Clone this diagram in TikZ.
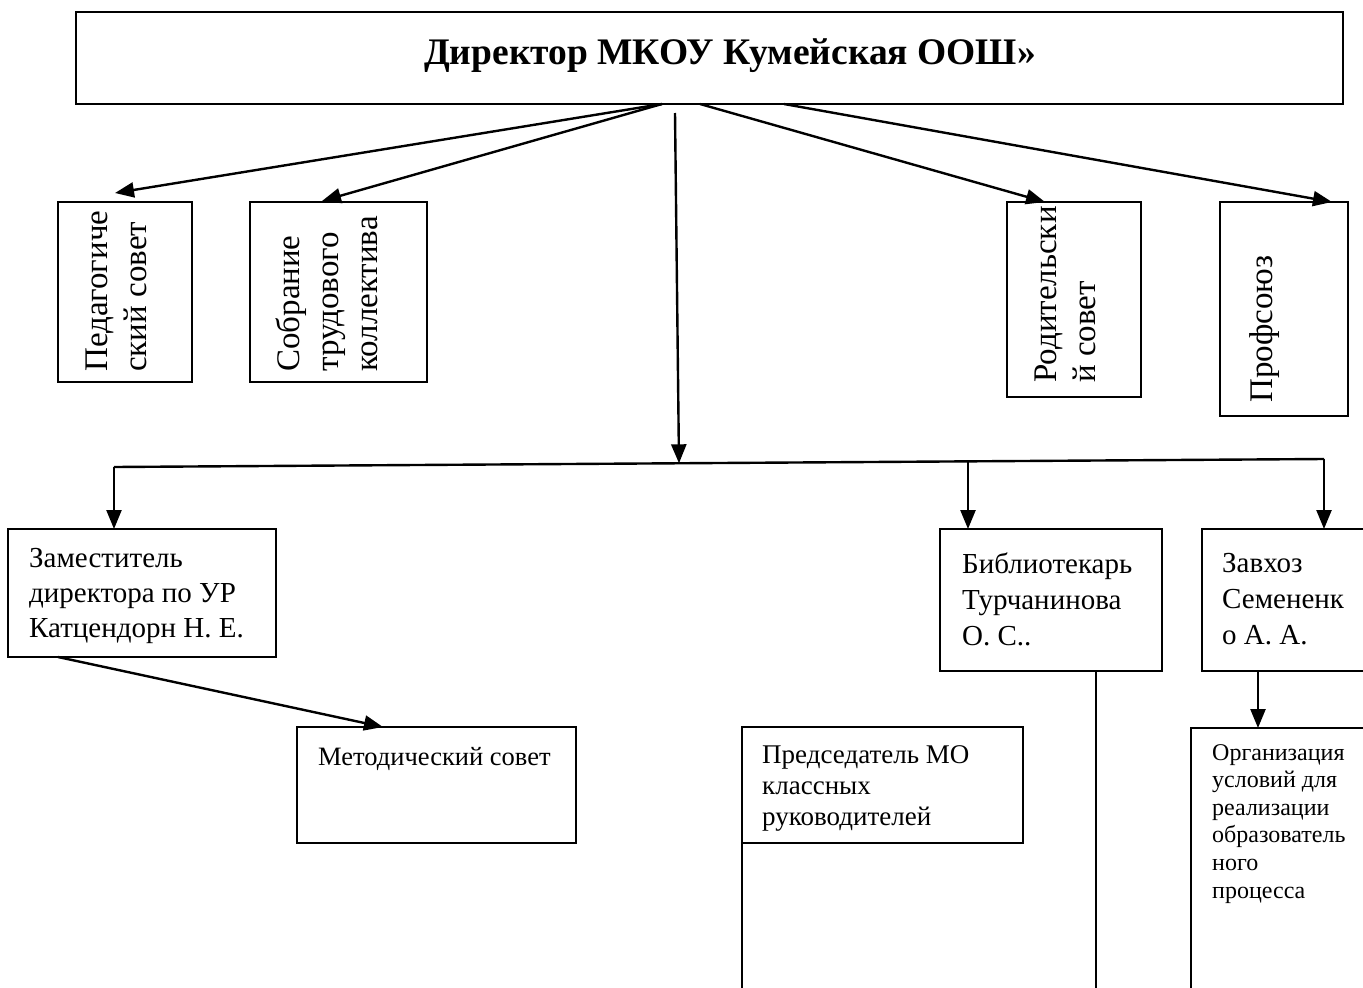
\documentclass[tikz,border=0pt]{standalone}
\usepackage{fontspec}
\setmainfont{Liberation Serif}
\usetikzlibrary{arrows.meta,calc}
\begin{document}
\begin{tikzpicture}[x=1pt,y=-1pt,
 box/.style={draw, line width=1.8pt, inner sep=0pt, outer sep=0pt},
 conn/.style={line width=2.4pt},
 arr/.style={conn, -{Triangle[length=19pt,width=15pt]}},
 txt/.style={inner sep=0pt, align=left, anchor=north west, font=\fontsize{29}{35}\selectfont},
 vtxt/.style={inner sep=0pt, align=left, anchor=north west, rotate=90, font=\fontsize{33}{39}\selectfont}]
\useasboundingbox (0,0) rectangle (1363,988);
\clip (0,0) rectangle (1363,988);
% boxes
\node[box, anchor=north west, minimum width=1267pt, minimum height=92pt] (dir) at (76,12) {};
\node[box, anchor=north west, minimum width=134pt, minimum height=180pt] (ped) at (58,202) {};
\node[box, anchor=north west, minimum width=177pt, minimum height=180pt] (sob) at (250,202) {};
\node[box, anchor=north west, minimum width=134pt, minimum height=195pt] (rod) at (1007,202) {};
\node[box, anchor=north west, minimum width=128pt, minimum height=214pt] (prof) at (1220,202) {};
\node[box, anchor=north west, minimum width=268pt, minimum height=128pt] (zam) at (8,529) {};
\node[box, anchor=north west, minimum width=222pt, minimum height=142pt] (bib) at (940,529) {};
\node[box, anchor=north west, minimum width=200pt, minimum height=142pt] (zav) at (1202,529) {};
\node[box, anchor=north west, minimum width=279pt, minimum height=116pt] (met) at (297,727) {};
\node[box, anchor=north west, minimum width=281pt, minimum height=116pt] (pred) at (742,727) {};
\node[box, anchor=north west, minimum width=200pt, minimum height=300pt] (org) at (1191,728) {};
% texts
\node[font=\bfseries\fontsize{37.5}{42}\selectfont, inner sep=0pt, anchor=base] (dirt) at (730,64) {Директор МКОУ Кумейская ООШ»};
\node[vtxt] (pedt) at (86,372) {Педагогиче\\ский совет};
\node[vtxt] (sobt) at (276,372) {Собрание\\трудового\\коллектива};
\node[vtxt] (rodt) at (1035,383) {Родительски\\й совет};
\node[vtxt] (proft) at (1249,403) {Профсоюз};
\node[txt] (zamt) at (29,548) {Заместитель\\директора по УР\\Катцендорн Н. Е.};
\node[txt, font=\fontsize{29}{36}\selectfont] (bibt) at (962,553) {Библиотекарь\\Турчанинова\\О. С..};
\node[txt, font=\fontsize{29}{36}\selectfont] (zavt) at (1222,553) {Завхоз\\Семененк\\о А. А.};
\node[txt, anchor=base west, font=\fontsize{26.5}{31}\selectfont] (mett) at (318,765) {Методический совет};
\node[txt, font=\fontsize{27}{31}\selectfont] (predt) at (762,745) {Председатель МО\\классных\\руководителей};
\node[txt, font=\fontsize{24}{27.6}\selectfont] (orgt) at (1212,744) {Организация\\условий для\\реализации\\образователь\\ного\\процесса};
% connectors
\draw[arr] ($(dir.south west)+(586,0)$) -- ($(ped.north west)+(57,-9)$);
\draw[arr] ($(dir.south west)+(586,0)$) -- ($(sob.north west)+(72,-1)$);
\draw[arr] ($(dir.south west)+(624,0)$) -- ($(rod.north west)+(38,0)$);
\draw[arr] ($(dir.south west)+(708,0)$) -- ($(prof.north west)+(112,0)$);
\coordinate (hl) at (114,467);
\coordinate (hr) at (1324,459);
\coordinate (hm) at (679,463.3);
\coordinate (hb) at (968,461.4);
\draw[conn] (hl) -- (hr);
\draw[arr] ($(dir.south west)+(599,9)$) -- (hm);
\draw[arr] (hl) -- (hl |- zam.north);
\draw[arr] (hb) -- (hb |- bib.north);
\draw[arr] (hr) -- (hr |- zav.north);
\draw[arr] ($(zam.south west)+(50,0)$) -- ($(met.north west)+(86,0)$);
\draw[arr] ($(zav.south west)+(56,0)$) -- ($(org.north west)+(67,0)$);
\draw[box] ($(bib.south west)+(156,0)$) -- ++(0,330);
\draw[box] (pred.south west) -- ++(0,200);
\end{tikzpicture}
\end{document}
